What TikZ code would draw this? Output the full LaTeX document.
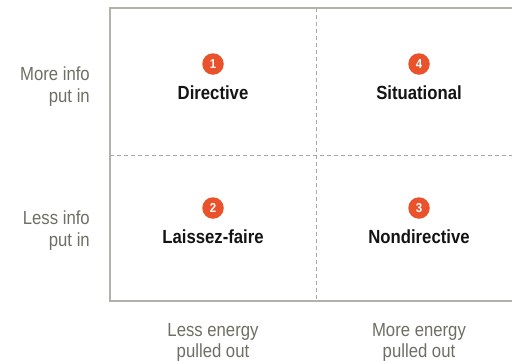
\documentclass[tikz,border=0pt]{standalone}
\usepackage{fontspec}
\setmainfont{Liberation Sans}[FakeStretch=0.88]
\definecolor{axisgray}{HTML}{6E6E64}
\definecolor{framegray}{HTML}{B2B2AA}
\definecolor{dashgray}{HTML}{A8A8A8}
\definecolor{badge}{HTML}{E9522A}
\definecolor{ink}{HTML}{141414}
\begin{document}
\begin{tikzpicture}[x=1pt,y=1pt,
  frame/.style={draw=framegray,line width=1.3pt},
  divider/.style={draw=dashgray,line width=0.9pt,dash pattern=on 4pt off 3pt},
  axl/.style={text=axisgray,font=\fontsize{19}{22}\selectfont,inner sep=0pt},
  qlabel/.style={text=ink,font=\fontsize{19}{22}\selectfont\bfseries,inner sep=0pt,anchor=base},
  numbadge/.style={circle,fill=badge,text=white,minimum size=21.5pt,inner sep=0pt,font=\fontsize{13}{13}\selectfont\bfseries}]
\useasboundingbox (0,0) rectangle (512,-360);
% frame
\coordinate (tl) at (110,-8);
\coordinate (bl) at (110,-301);
\coordinate (tr) at (512,-8);
\coordinate (br) at (512,-301);
\coordinate (vt) at (316,-8);
\coordinate (vb) at (316,-301);
\coordinate (hl) at (110,-155);
\coordinate (hr) at (512,-155);
\draw[divider] (vt) -- (vb);
\draw[divider] (hl) -- (hr);
\draw[frame] (tr) -- (tl) -- (bl) -- (br);
% quadrants
\node[numbadge] (n1) at (213,-64) {1};
\node[qlabel] (q1) at (213,-99) {Directive};
\node[numbadge] (n4) at (419,-64) {4};
\node[qlabel] (q4) at (419,-99) {Situational};
\node[numbadge] (n2) at (213,-208) {2};
\node[qlabel] (q2) at (213,-243) {Laissez-faire};
\node[numbadge] (n3) at (419,-208) {3};
\node[qlabel] (q3) at (419,-243) {Nondirective};
% y axis labels
\node[axl,anchor=base east] (ya1) at (90,-80.5) {More info};
\node[axl,anchor=base east] (ya2) at (90,-102.5) {put in};
\node[axl,anchor=base east] (yb1) at (90,-224) {Less info};
\node[axl,anchor=base east] (yb2) at (90,-246) {put in};
% x axis labels
\node[axl,anchor=base] (xa1) at (213,-336.5) {Less energy};
\node[axl,anchor=base] (xa2) at (213,-357) {pulled out};
\node[axl,anchor=base] (xb1) at (419,-336.5) {More energy};
\node[axl,anchor=base] (xb2) at (419,-357) {pulled out};
\end{tikzpicture}
\end{document}
